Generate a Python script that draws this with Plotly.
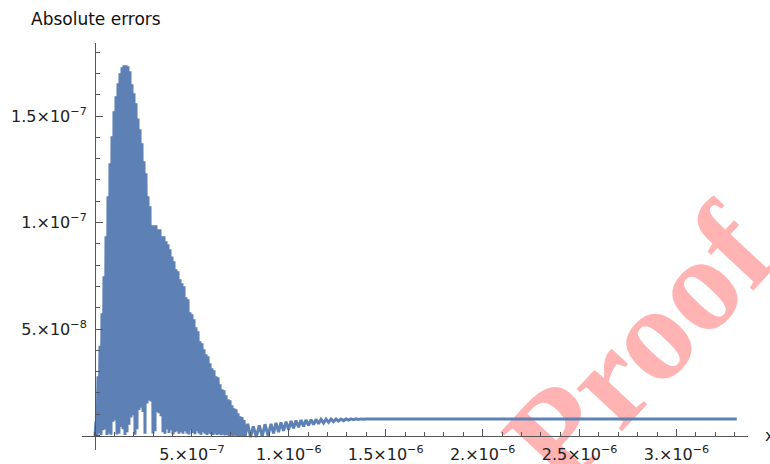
import plotly.graph_objects as go

# ---- data (x in units of 1e-8, absolute error in units of 1e-9) ----
X_UNIT = 1e-8
Y_UNIT = 1e-9

x_e8 = [
    0.00, 0.52, 1.03, 1.55, 2.06, 2.58, 3.10, 3.61, 4.13, 4.64,
    5.16, 5.68, 6.19, 6.71, 7.22, 7.74, 8.26, 8.77, 9.29, 9.80,
    10.32, 10.84, 11.35, 11.87, 12.38, 12.90, 13.42, 13.93, 14.45, 14.96,
    15.48, 16.00, 16.51, 17.03, 17.54, 18.06, 18.58, 19.09, 19.61, 20.12,
    20.64, 21.16, 21.67, 22.19, 22.70, 23.22, 23.74, 24.25, 24.77, 25.28,
    25.80, 26.32, 26.83, 27.35, 27.86, 28.38, 28.90, 29.41, 29.93, 30.44,
    30.96, 31.48, 31.99, 32.51, 33.02, 33.54, 34.06, 34.57, 35.09, 35.60,
    36.12, 36.64, 37.15, 37.67, 38.18, 38.70, 39.22, 39.73, 40.25, 40.76,
    41.28, 41.80, 42.31, 42.83, 43.34, 43.86, 44.38, 44.89, 45.41, 45.92,
    46.44, 46.96, 47.47, 47.99, 48.50, 49.02, 49.54, 50.05, 50.57, 51.08,
    51.60, 52.12, 52.63, 53.15, 53.66, 54.18, 54.70, 55.21, 55.73, 56.24,
    56.76, 57.28, 57.79, 58.31, 58.82, 59.34, 59.86, 60.37, 60.89, 61.40,
    61.92, 62.44, 62.95, 63.47, 63.98, 64.50, 65.02, 65.53, 66.05, 66.56,
    67.08, 67.60, 68.11, 68.63, 69.14, 69.66, 70.18, 70.69, 71.21, 71.72,
    72.24, 72.76, 73.27, 73.79, 74.30, 74.82, 75.34, 75.85, 76.37, 76.88,
    77.40, 78.79, 80.24, 81.68, 83.23, 84.78, 86.28, 87.72, 89.27, 90.82,
    92.11, 93.40, 94.69, 95.98, 97.27, 98.56, 99.85, 101.14, 102.43, 103.72,
    105.01, 106.30, 107.59, 108.88, 110.17, 111.46, 112.75, 114.04, 115.33, 116.62,
    117.91, 119.20, 120.49, 121.78, 123.07, 124.36, 125.65, 126.94, 128.23, 129.52,
    130.81, 132.10, 133.39, 134.68, 135.97, 137.26, 138.55, 139.84, 331.10,
]

err_e9 = [
    0.0, 6.7, 0.3, 27.8, 1.0, 42.1, 0.2, 57.4, 2.5, 74.8,
    3.0, 93.5, 0.2, 112.3, 1.0, 127.8, 0.4, 140.5, 6.5, 152.2,
    7.0, 159.3, 0.5, 165.4, 1.0, 170.1, 4.0, 172.9, 3.0, 173.8,
    0.3, 173.8, 1.5, 173.4, 5.0, 171.0, 8.5, 164.9, 9.5, 160.7,
    0.4, 156.0, 3.0, 148.9, 12.0, 143.8, 13.0, 137.2, 11.0, 128.8,
    0.8, 123.1, 15.0, 112.3, 16.5, 107.6, 16.0, 98.7, 1.0, 98.7,
    2.0, 98.7, 11.0, 96.8, 10.5, 96.8, 9.0, 93.5, 1.5, 93.5,
    0.8, 91.2, 3.0, 89.8, 1.2, 87.4, 2.5, 84.1, 0.5, 81.8,
    1.5, 78.1, 2.0, 77.1, 0.8, 73.4, 1.5, 71.5, 0.8, 70.1,
    2.0, 64.9, 1.0, 64.0, 0.5, 57.9, 2.5, 56.9, 1.2, 54.6,
    0.6, 50.8, 2.0, 48.9, 1.0, 44.3, 0.4, 43.3, 1.5, 40.5,
    0.8, 38.2, 0.3, 37.2, 1.0, 33.9, 0.5, 31.6, 0.2, 30.6,
    0.8, 27.8, 0.3, 27.4, 0.6, 24.1, 0.1, 21.7, 0.4, 21.2,
    0.0, 18.9, 0.3, 17.0, -0.2, 16.5, 0.2, 14.2, -0.3, 12.8,
    0.0, 12.3, -0.4, 10.4, -0.2, 9.0, -0.5, 8.6, -0.3, 7.2,
    -0.6, 5.5, -0.7, 4.3, -0.6, 4.8, -0.4, 5.3, 0.0, 5.5,
    1.0, 5.9, 1.6, 6.2, 2.2, 6.5, 2.8, 6.8, 3.4, 7.1,
    3.9, 7.3, 4.3, 7.4, 4.7, 7.5, 5.1, 7.6, 5.5, 7.6,
    5.9, 7.7, 6.2, 7.7, 6.5, 7.7, 6.8, 7.7, 7.0, 7.8,
    7.2, 7.8, 7.4, 7.8, 7.5, 7.8, 7.6, 7.8, 7.8,
]

x_tick_vals = [5e-7, 1e-6, 1.5e-6, 2e-6, 2.5e-6, 3e-6]
x_tick_text = ["5.×10<sup>−7</sup>", "1.×10<sup>−6</sup>", "1.5×10<sup>−6</sup>",
               "2.×10<sup>−6</sup>", "2.5×10<sup>−6</sup>", "3.×10<sup>−6</sup>"]
y_tick_vals = [5e-8, 1e-7, 1.5e-7]
y_tick_text = ["5.×10<sup>−8</sup>", "1.×10<sup>−7</sup>", "1.5×10<sup>−7</sup>"]

x_vals = [v * X_UNIT for v in x_e8]
y_vals = [v * Y_UNIT for v in err_e9]

# ---- figure ----
X_RANGE = [-6.7e-8, 3.369e-6]
Y_RANGE = [-6.8e-9, 1.843e-7]
AXIS_COLOR = "#555555"
FONT = "DejaVu Sans"

fig = go.Figure()
fig.add_trace(go.Scatter(
    x=x_vals, y=y_vals, mode="lines",
    line=dict(color="#5E81B5", width=3, simplify=False),
    showlegend=False, hoverinfo="skip",
))

x_axis_pos = (0 - Y_RANGE[0]) / (Y_RANGE[1] - Y_RANGE[0])
y_axis_pos = (0 - X_RANGE[0]) / (X_RANGE[1] - X_RANGE[0])

fig.update_layout(
    width=770, height=464,
    margin=dict(l=82, r=22, t=43, b=14, autoexpand=False),
    paper_bgcolor="white", plot_bgcolor="white",
    font=dict(family=FONT, size=16, color="#222222"),
    title=dict(text="Absolute errors", x=31 / 770, xref="container", xanchor="left",
               y=1 - 19 / 464, yref="container", yanchor="middle",
               font=dict(family=FONT, size=17, color="#111111"),
               automargin=False),
    xaxis=dict(
        range=X_RANGE, anchor="free", position=x_axis_pos, automargin=False,
        showgrid=False, zeroline=False, showline=True, linecolor=AXIS_COLOR, linewidth=1,
        ticks="inside", ticklen=7, tickcolor=AXIS_COLOR, tickwidth=1,
        tickmode="array", tickvals=x_tick_vals, ticktext=x_tick_text,
        ticklabelstandoff=4,
        tickfont=dict(family=FONT, size=16, color="#222222"),
        minor=dict(ticks="inside", ticklen=4, tickcolor=AXIS_COLOR, tickmode="linear",
                   tick0=0, dtick=1e-7, showgrid=False),
    ),
    yaxis=dict(
        range=Y_RANGE, anchor="free", position=y_axis_pos, automargin=False,
        showgrid=False, zeroline=False, showline=True, linecolor=AXIS_COLOR, linewidth=1,
        ticks="inside", ticklen=7, tickcolor=AXIS_COLOR, tickwidth=1,
        tickmode="array", tickvals=y_tick_vals, ticktext=y_tick_text,
        ticklabelstandoff=5,
        tickfont=dict(family=FONT, size=16, color="#222222"),
        minor=dict(ticks="inside", ticklen=4, tickcolor=AXIS_COLOR, tickmode="linear",
                   tick0=0, dtick=1e-8, showgrid=False),
    ),
    shapes=[dict(
        type="rect", xref="paper", yref="paper", layer="below",
        x0=0.69, x1=0.95, y0=0.13, y1=0.43,
        line=dict(width=0), fillcolor="rgba(0,0,0,0)",
        label=dict(text="Proof", textangle=-47, textposition="middle center",
                   font=dict(family="Liberation Serif", size=135, color="#FFB3B3",
                             weight="bold")),
    )],
    annotations=[dict(
        text="x", xref="paper", yref="paper", x=1.0225, y=x_axis_pos,
        xanchor="left", yanchor="middle", showarrow=False,
        font=dict(family=FONT, size=16, color="#222222"),
    )],
)

fig.write_html("out.html")
